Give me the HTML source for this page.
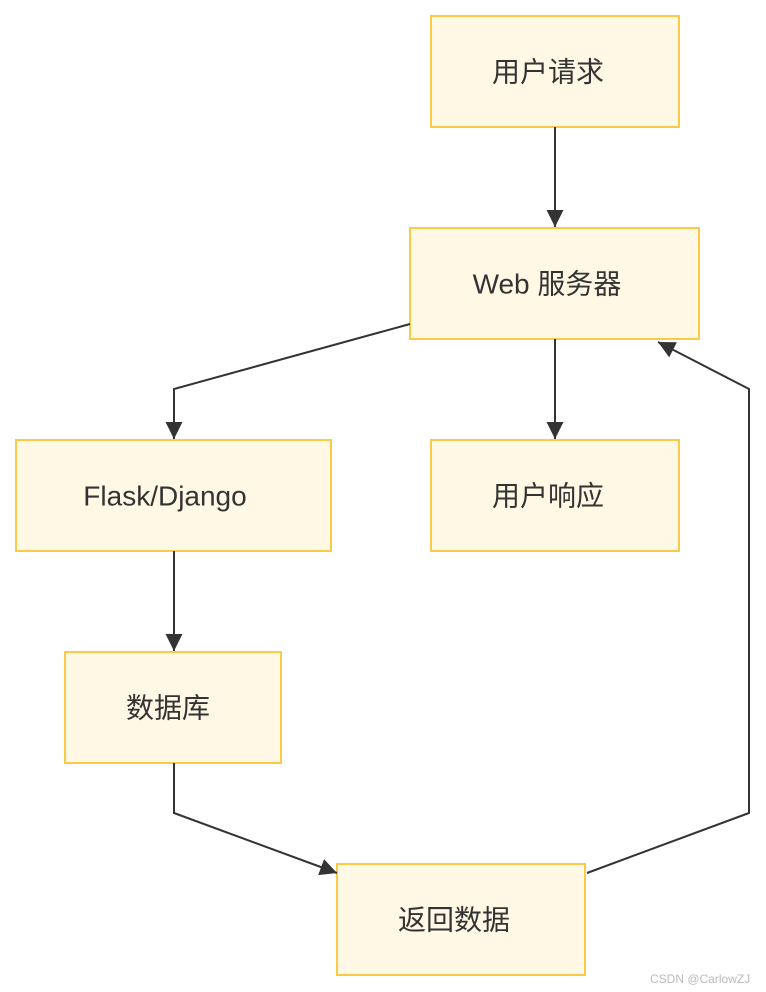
<!DOCTYPE html>
<html><head><meta charset="utf-8"><style>
html,body{margin:0;padding:0;background:#fff;}
svg{display:block}
text{font-family:"Liberation Sans","Noto Sans CJK SC",sans-serif;font-size:28px;fill:#333;}
</style></head><body>
<svg width="766" height="992" viewBox="0 0 766 992" xmlns="http://www.w3.org/2000/svg">
<defs>
<marker id="b" viewBox="0 0 10 10" refX="10" refY="5" markerWidth="17" markerHeight="17" markerUnits="userSpaceOnUse" orient="auto"><path d="M0,0L10,5L0,10z" fill="#333"/></marker></defs>
<g fill="#fff8e5" stroke="#fcca46" stroke-width="2">
<rect x="431" y="16" width="248" height="111"/>
<rect x="410" y="228" width="289" height="111"/>
<rect x="16" y="440" width="315" height="111"/>
<rect x="431" y="440" width="248" height="111"/>
<rect x="65" y="652" width="216" height="111"/>
<rect x="337" y="864" width="248" height="111"/>
</g>
<g fill="none" stroke="#333" stroke-width="2">
<path d="M555,127V227" marker-end="url(#b)"/>
<path d="M410,324L174,389V439" marker-end="url(#b)"/>
<path d="M555,339V439" marker-end="url(#b)"/>
<path d="M174,551V651" marker-end="url(#b)"/>
<path d="M174,763V813L337,873" marker-end="url(#b)"/>
<path d="M587,873L749,813V389L658,342" marker-end="url(#b)"/>
</g>
<g text-anchor="middle" dominant-baseline="central">
<text x="548" y="72">用户请求</text>
<text x="547" y="284">Web 服务器</text>
<text x="165" y="496">Flask/Django</text>
<text x="548" y="496">用户响应</text>
<text x="168" y="708">数据库</text>
<text x="454" y="920">返回数据</text>
</g>
<text x="650" y="983" style="font-size:12px;fill:#bbb">CSDN @CarlowZJ</text>
</svg>
</body></html>
